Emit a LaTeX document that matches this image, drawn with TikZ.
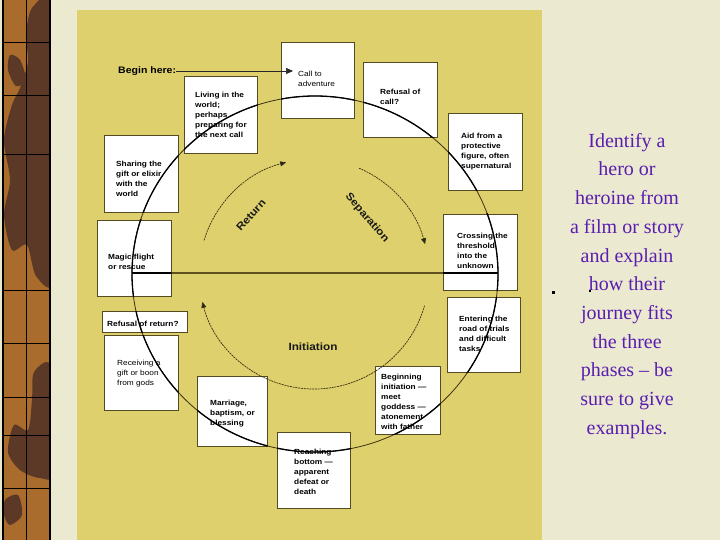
\documentclass[tikz,border=0pt]{standalone}
\usepackage{fontspec}
\setmainfont{Liberation Serif}
\newfontfamily\boxfont[FakeStretch=1.12]{Liberation Sans}
\usetikzlibrary{arrows.meta}
\definecolor{parch}{RGB}{236,233,209}
\definecolor{panel}{RGB}{222,208,108}
\definecolor{boxline}{RGB}{85,75,35}
\definecolor{ring}{RGB}{60,50,18}
\definecolor{diam}{RGB}{95,80,30}
\definecolor{phasecol}{RGB}{55,47,15}
\definecolor{slidetext}{RGB}{90,30,175}
\definecolor{stripbrown}{RGB}{170,108,45}
\definecolor{stripdark}{RGB}{92,56,38}
\begin{document}
\begin{tikzpicture}[x=1pt,y=1pt,
  box/.style={draw=boxline, line width=0.6pt, fill=white, inner sep=0pt, anchor=north west},
  btext/.style={anchor=north west, inner sep=0pt, align=left, text=black,
    font=\boxfont\bfseries\fontsize{7.4}{10}\selectfont},
  rtext/.style={btext, font=\boxfont\fontsize{7.4}{10}\selectfont},
  phaselbl/.style={inner sep=0pt, text=black!90, font=\boxfont\bfseries\fontsize{10.5}{12}\selectfont},
  phasearc/.style={draw=phasecol, line width=0.7pt, dash pattern=on 2pt off 0.8pt,
    -{Triangle[length=6pt,width=5pt,fill=black!85]}},
  stripline/.style={draw=black, line width=0.8pt}]
% background
\useasboundingbox (0,0) rectangle (720,-540);
\fill[parch] (0,0) rectangle (720,-540);
% left decorative strip
\fill[stripbrown] (3,0) rectangle (50,-540);
\begin{scope}
  \clip (3,0) rectangle (50,-540);
  \fill[stripdark] plot[smooth cycle] coordinates {(32,-8) (52,-5) (54,-150) (54,-280) (36,-276) (27,-245) (12,-250) (4,-215) (10,-180) (4,-140) (12,-105) (20,-88) (28,-62) (26,-35)};
  \fill[stripdark] plot[smooth cycle] coordinates {(10,-55) (20,-60) (26,-80) (16,-86) (8,-70)};
  \fill[stripdark] plot[smooth cycle] coordinates {(34,-372) (52,-368) (54,-470) (40,-478) (20,-470) (8,-452) (14,-425) (28,-430) (32,-400)};
  \fill[stripdark] plot[smooth cycle] coordinates {(5,-500) (18,-495) (22,-515) (10,-525) (4,-515)};
\end{scope}
\draw[black, line width=1.5pt] (3,0) -- (3,-540);
\draw[stripline] (26,0) -- (26,-540);
\draw[black, line width=2pt] (50,0) -- (50,-540);
\foreach \yy in {42,95,154,290,343,397,435,488}
  \draw[stripline] (3,-\yy) -- (50,-\yy);
% yellow panel
\fill[panel] (77,-10) rectangle (542,-540);
% boxes
\node[box, minimum width=73pt, minimum height=76pt] (call) at (281,-42) {};
\node[box, minimum width=73pt, minimum height=77pt] (living) at (184,-76) {};
\node[box, minimum width=74pt, minimum height=75pt] (refcall) at (363,-62) {};
\node[box, minimum width=74pt, minimum height=77pt] (aid) at (448,-113) {};
\node[box, minimum width=74pt, minimum height=77pt] (sharing) at (104,-135) {};
\node[box, minimum width=74pt, minimum height=76pt] (magic) at (97,-220) {};
\node[box, minimum width=74pt, minimum height=76pt] (crossing) at (443,-214) {};
\node[box, minimum width=73pt, minimum height=75pt] (entering) at (447,-297) {};
\node[box, minimum width=85pt, minimum height=21pt] (refret) at (102,-311) {};
\node[box, minimum width=74pt, minimum height=75pt] (receiving) at (104,-335) {};
\node[box, minimum width=70pt, minimum height=70pt] (marriage) at (197,-376) {};
\node[box, minimum width=73pt, minimum height=76pt] (reaching) at (277,-432) {};
\node[box, minimum width=65pt, minimum height=68pt] (beginning) at (375,-366) {};
% great circle and diameter
\coordinate (cc) at (315,-274);
\coordinate (W) at (132,-273);
\coordinate (E) at (498,-273);
\draw[ring, line width=0.8pt] (cc) ellipse [x radius=183pt, y radius=178pt];
\draw[diam, line width=1.4pt] (W) -- (E);
\foreach \b in {call,living,refcall,aid,sharing,magic,crossing,entering,refret,receiving,marriage,reaching,beginning}{
  \begin{scope}
    \clip (\b.south west) rectangle (\b.north east);
    \draw[black, line width=1.3pt] (cc) ellipse [x radius=183pt, y radius=178pt];
    \draw[black, line width=1.6pt] (W) -- (E);
  \end{scope}
}
% box texts
\node[rtext] (callt) at (298,-70.5) {Call to\\adventure};
\node[btext] (livingt) at (195,-91.5) {Living in the\\world;\\perhaps\\preparing for\\the next call};
\node[btext] (refcallt) at (380,-88.5) {Refusal of\\call?};
\node[btext] (aidt) at (461,-132.5) {Aid from a\\protective\\figure, often\\supernatural};
\node[btext] (sharingt) at (116,-160.5) {Sharing the\\gift or elixir\\with the\\world};
\node[btext] (magict) at (108,-253.5) {Magic flight\\or rescue};
\node[btext] (crossingt) at (457,-232.5) {Crossing the\\threshold\\into the\\unknown};
\node[btext] (enteringt) at (459,-315.5) {Entering the\\road of trials\\and difficult\\tasks};
\node[btext] (refrett) at (107,-320.5) {Refusal of return?};
\node[rtext] (receivingt) at (117,-359.5) {Receiving a\\gift or boon\\from gods};
\node[btext] (marriaget) at (210,-399.5) {Marriage,\\baptism, or\\blessing};
\node[btext] (reachingt) at (294,-448.5) {Reaching\\bottom —\\apparent\\defeat or\\death};
\node[btext] (beginningt) at (381,-373.5) {Beginning\\initiation —\\meet\\goddess —\\atonement\\with father};
% begin here
\node[anchor=west, inner sep=0pt, text=black, font=\boxfont\bfseries\fontsize{9.4}{11}\selectfont] (begin) at (118,-71) {Begin here:};
\coordinate (arrowend) at (293,-71);
\draw[black!85, line width=0.6pt, -{Triangle[length=7pt,width=6pt]}] (begin.east) -- (arrowend);
% phase arcs
\coordinate (ic) at (314,-274);
\draw[phasearc] (ic) ++(163:115pt) arc[start angle=163, end angle=104, radius=115pt];
\draw[phasearc] (ic) ++(67:115pt) arc[start angle=67, end angle=15, radius=115pt];
\draw[phasearc] (ic) ++(-16:115pt) arc[start angle=-16, end angle=-166, radius=115pt];
\node[phaselbl, rotate=48] (ret) at (251,-215) {Return};
\node[phaselbl, rotate=-49] (sep) at (367,-218) {Separation};
\node[phaselbl] (ini) at (313,-347) {Initiation};
% slide text
\node[anchor=north, align=center, inner sep=0pt, text=slidetext,
  font=\fontsize{20}{28.7}\selectfont] (task) at (627,-133)
  {Identify a\\hero or\\heroine from\\a film or story\\and explain\\how their\\journey fits\\the three\\phases – be\\sure to give\\examples.};
\node[fill=black, minimum size=3pt, inner sep=0pt] (bullet) at (553,-292) {};
\node[fill=black, minimum size=1.8pt, inner sep=0pt] (speck) at (590,-291) {};
\end{tikzpicture}
\end{document}
